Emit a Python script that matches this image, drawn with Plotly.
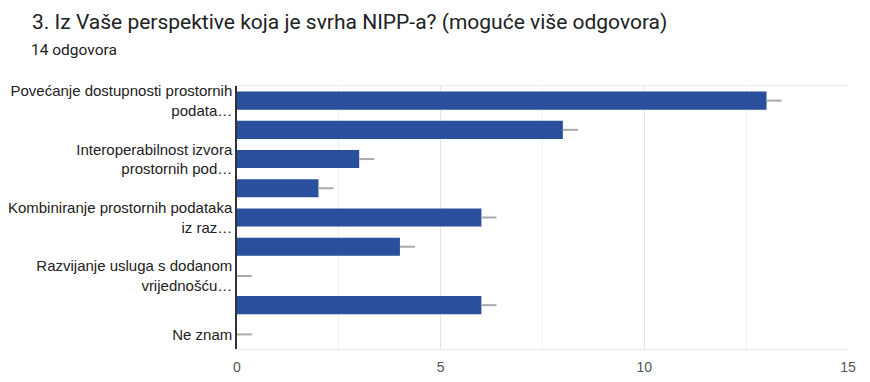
import plotly.graph_objects as go

tick_labels = [
    "Povećanje dostupnosti prostornih<br>podata…",
    "",
    "Interoperabilnost izvora<br>prostornih pod…",
    "",
    "Kombiniranje prostornih podataka<br>iz raz…",
    "",
    "Razvijanje usluga s dodanom<br>vrijednošću…",
    "",
    "Ne znam",
]
positions = list(range(len(tick_labels)))
values = [13, 8, 3, 2, 6, 4, 0, 6, 0]
err_plus = [0.37] * len(values)
err_minus = [0] * len(values)

# the page places the figure 8px in from the top-left corner
OFF = 8
W, H = 870 - OFF, 382 - OFF
ML, MT = 237 - OFF, 86 - OFF
MR = W - (848 - OFF)
MB = H - (349.5 - OFF)
PW, PH = W - ML - MR, H - MT - MB

fig = go.Figure()
fig.add_trace(go.Bar(
    x=values, y=positions, orientation="h",
    marker=dict(color="#2a4f9c", line=dict(width=0)),
    error_x=dict(type="data", symmetric=False, array=err_plus, arrayminus=err_minus,
                 color="#aaaaaa", thickness=2, width=0),
    hoverinfo="x",
))

fig.update_layout(
    width=W, height=H,
    margin=dict(l=ML, r=MR, t=MT, b=MB, autoexpand=False),
    paper_bgcolor="white", plot_bgcolor="white",
    font=dict(family="Liberation Sans, Arial, sans-serif", color="#222222", size=15),
    bargap=0.38,
    showlegend=False,
    title=dict(text="3. Iz Vaše perspektive koja je svrha NIPP-a? (moguće više odgovora)",
               x=(32 - OFF) / W, xanchor="left", xref="container",
               y=1 - (22 - OFF) / H, yanchor="middle", yref="container",
               font=dict(size=21, color="#202124", family="Roboto, Arial, sans-serif")),
)
fig.add_annotation(text="14 odgovora", xref="paper", yref="paper",
                   x=-(ML - (29 - OFF)) / PW, xanchor="left",
                   y=1 + (MT - (50 - OFF)) / PH, yanchor="middle",
                   showarrow=False,
                   font=dict(size=15.5, color="#202124", family="Roboto, Arial, sans-serif"))

fig.update_xaxes(
    range=[0, 15], tick0=0, dtick=5, automargin=False,
    showgrid=True, gridcolor="#e6e6e6", gridwidth=1,
    minor=dict(dtick=2.5, showgrid=True, gridcolor="#f0f0f0", gridwidth=1),
    showline=True, linecolor="#ebebeb", linewidth=1, mirror=True,
    zeroline=False, ticks="", tickfont=dict(size=14, color="#555555"),
    ticklabelstandoff=5,
)
fig.update_yaxes(
    tickmode="array", tickvals=positions, ticktext=tick_labels, automargin=False,
    range=[len(positions) - 0.5, -0.5],
    showgrid=False, zeroline=False,
    showline=True, linecolor="#333333", linewidth=1.5,
    ticks="", tickfont=dict(size=15, color="#222222"),
    ticklabelstandoff=0,
)

fig.write_html("out.html")
